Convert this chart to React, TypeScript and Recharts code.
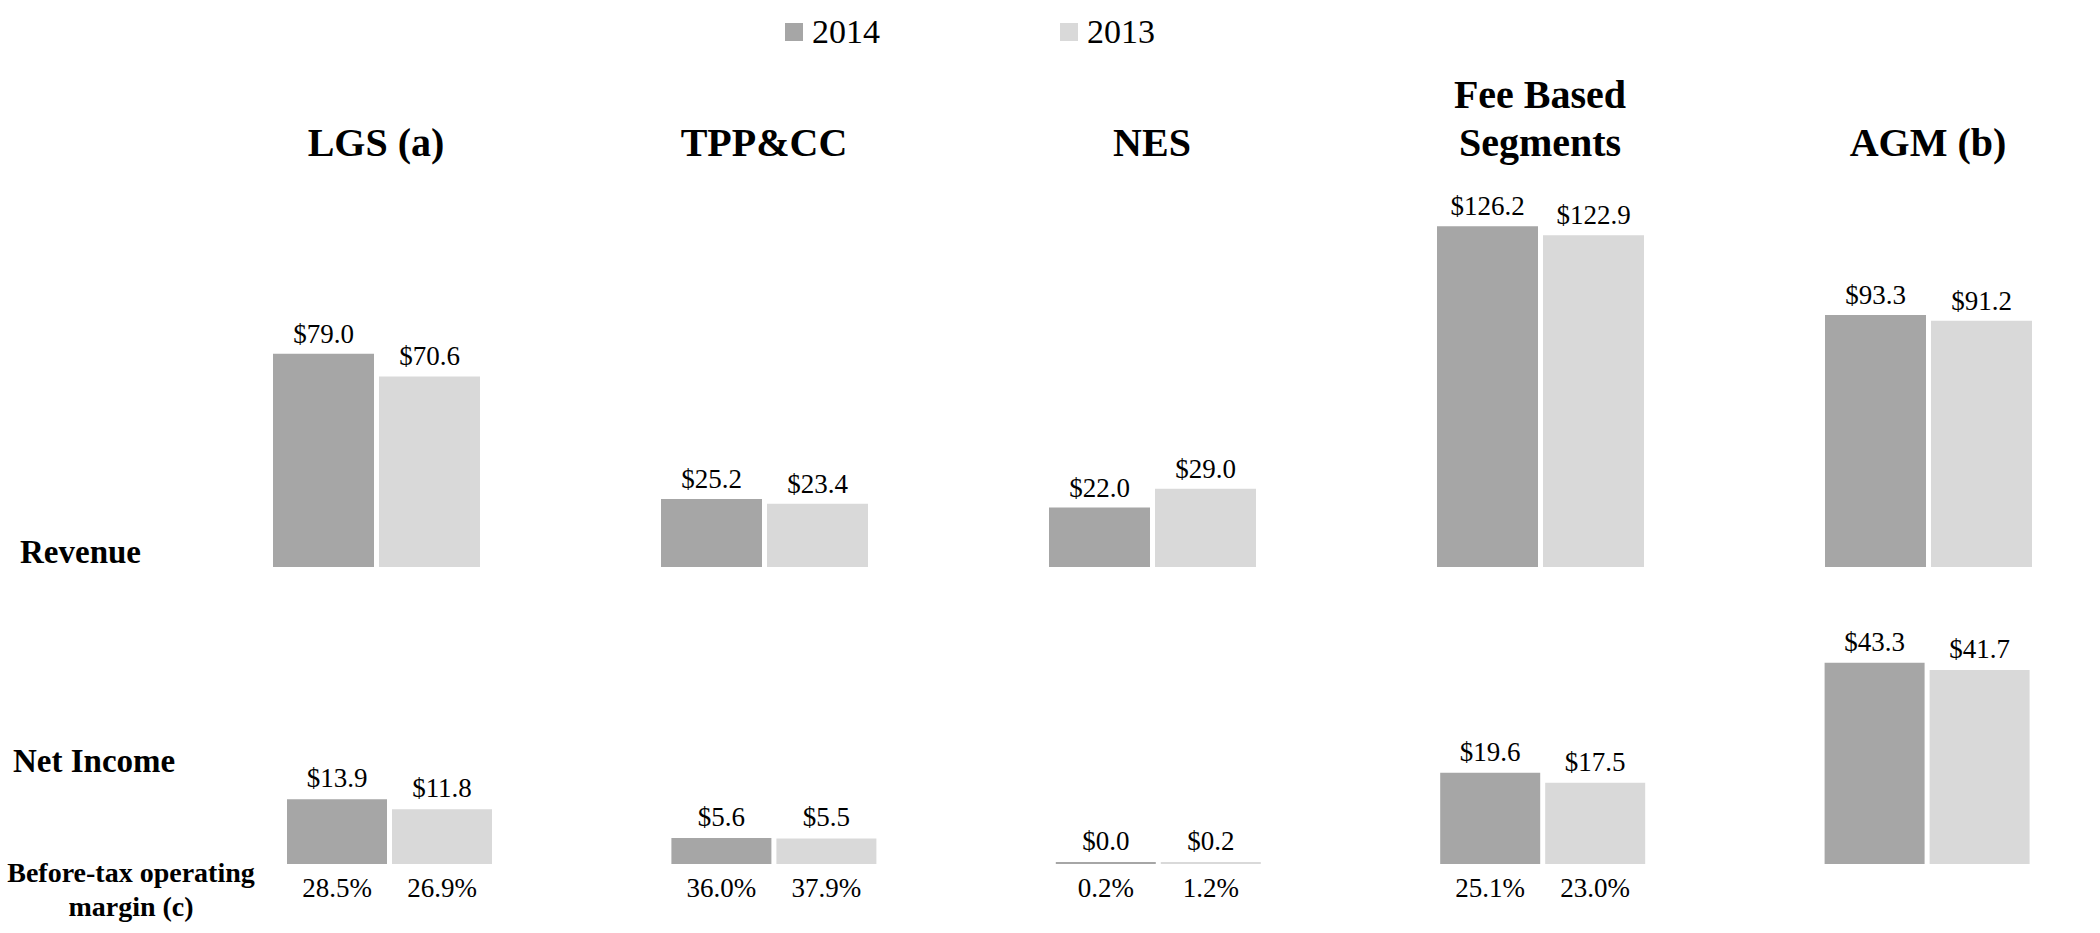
import { BarChart, Bar, XAxis, YAxis, LabelList, Legend } from "recharts";

const segments = ["LGS (a)", "TPP&CC", "NES", "Fee Based\nSegments", "AGM (b)"];
const seriesNames = ["2014", "2013"];
const revenue2014 = [79.0, 25.2, 22.0, 126.2, 93.3];
const revenue2013 = [70.6, 23.4, 29.0, 122.9, 91.2];
const netIncome2014 = [13.9, 5.6, 0.0, 19.6, 43.3];
const netIncome2013 = [11.8, 5.5, 0.2, 17.5, 41.7];
const margin2014 = ["28.5%", "36.0%", "0.2%", "25.1%", null];
const margin2013 = ["26.9%", "37.9%", "1.2%", "23.0%", null];

const revenueData = segments.map((name, i) => ({
  name,
  y2014: revenue2014[i],
  y2013: revenue2013[i],
}));

const netData = segments.map((name, i) => ({
  name,
  y2014: netIncome2014[i],
  y2013: netIncome2013[i],
  m2014: margin2014[i],
  m2013: margin2013[i],
}));

const FONT = "Times New Roman, Times, Liberation Serif, Tinos, Noto Serif, DejaVu Serif, serif";
const DARK = "#a6a6a6";
const LIGHT = "#d9d9d9";

const money = (v: any) => `$${Number(v).toFixed(1)}`;

// segment titles sit above the revenue row, bottom-aligned
function TitleTick(props: any) {
  const { x, payload } = props;
  const lines = String(payload.value).split("\n");
  return (
    <g>
      {lines.map((line, i) => (
        <text
          key={i}
          x={x}
          y={156 - (lines.length - 1 - i) * 48}
          textAnchor="middle"
          fontFamily={FONT}
          style={{ fontFamily: FONT, fontWeight: "bold", fontSize: 40 }}
          fill="#000"
        >
          {line}
        </text>
      ))}
    </g>
  );
}

function renderLegend(props: any) {
  const items = [...(props.payload || [])].sort(
    (a: any, b: any) => seriesNames.indexOf(a.value) - seriesNames.indexOf(b.value)
  );
  return (
    <div style={{ display: "flex", fontFamily: FONT, fontSize: 34, color: "#000" }}>
      {items.map((item: any) => (
        <div key={item.value} style={{ display: "flex", alignItems: "center", width: 275 }}>
          <span style={{ display: "inline-block", width: 18, height: 18, background: item.color, marginRight: 9 }} />
          <span style={{ lineHeight: "36px" }}>{item.value}</span>
        </div>
      ))}
    </div>
  );
}

const labelStyle = { fontFamily: FONT, fontSize: 27, fill: "#000" };

export default function App() {
  return (
    <div
      style={{
        position: "absolute",
        top: 0,
        left: 0,
        width: 2100,
        height: 933,
        overflow: "hidden",
        background: "#fff",
        fontFamily: FONT,
      }}
    >
      <div style={{ position: "absolute", top: 0, left: 0 }}>
        <BarChart
          width={2122}
          height={600}
          data={revenueData}
          margin={{ top: 122, right: 0, left: 182, bottom: 33 }}
          barGap={5}
          style={{ fontFamily: FONT }}
        >
          <XAxis
            dataKey="name"
            orientation="top"
            height={40}
            axisLine={false}
            tickLine={false}
            interval={0}
            tick={(p: any) => <TitleTick {...p} />}
          />
          <YAxis hide domain={[0, 150]} />
          <Legend
            layout="horizontal"
            verticalAlign="middle"
            align="center"
            wrapperStyle={{ position: "absolute", top: 14, left: 785, width: 600, height: 40 }}
            content={renderLegend}
          />
          <Bar dataKey="y2014" name={seriesNames[0]} fill={DARK} barSize={101} isAnimationActive={false}>
            <LabelList dataKey="y2014" position="top" offset={11} formatter={money} fontFamily={FONT} style={labelStyle} />
          </Bar>
          <Bar dataKey="y2013" name={seriesNames[1]} fill={LIGHT} barSize={101} isAnimationActive={false}>
            <LabelList dataKey="y2013" position="top" offset={11} formatter={money} fontFamily={FONT} style={labelStyle} />
          </Bar>
        </BarChart>
      </div>

      <div style={{ position: "absolute", top: 0, left: 0 }}>
        <BarChart
          width={2119}
          height={933}
          data={netData}
          margin={{ top: 585, right: 0, left: 197, bottom: 69 }}
          barGap={5}
          style={{ fontFamily: FONT }}
        >
          <XAxis dataKey="name" hide />
          <YAxis hide domain={[0, 60]} />
          <Bar dataKey="y2014" fill={DARK} barSize={100} minPointSize={2} isAnimationActive={false}>
            <LabelList dataKey="y2014" position="top" offset={12} formatter={money} fontFamily={FONT} style={labelStyle} />
            <LabelList dataKey="m2014" position="bottom" offset={14} fontFamily={FONT} style={labelStyle} />
          </Bar>
          <Bar dataKey="y2013" fill={LIGHT} barSize={100} minPointSize={2} isAnimationActive={false}>
            <LabelList dataKey="y2013" position="top" offset={12} formatter={money} fontFamily={FONT} style={labelStyle} />
            <LabelList dataKey="m2013" position="bottom" offset={14} fontFamily={FONT} style={labelStyle} />
          </Bar>
        </BarChart>
      </div>

      <svg
        width={2100}
        height={933}
        style={{ position: "absolute", top: 0, left: 0, pointerEvents: "none" }}
        fontFamily={FONT}
        fontWeight="bold"
        fill="#000"
      >
        <text x={20} y={563} fontSize={33}>Revenue</text>
        <text x={13} y={772} fontSize={33}>Net Income</text>
        <text x={131} y={882} fontSize={28} textAnchor="middle">Before-tax operating</text>
        <text x={131} y={916} fontSize={28} textAnchor="middle">margin (c)</text>
      </svg>
    </div>
  );
}
